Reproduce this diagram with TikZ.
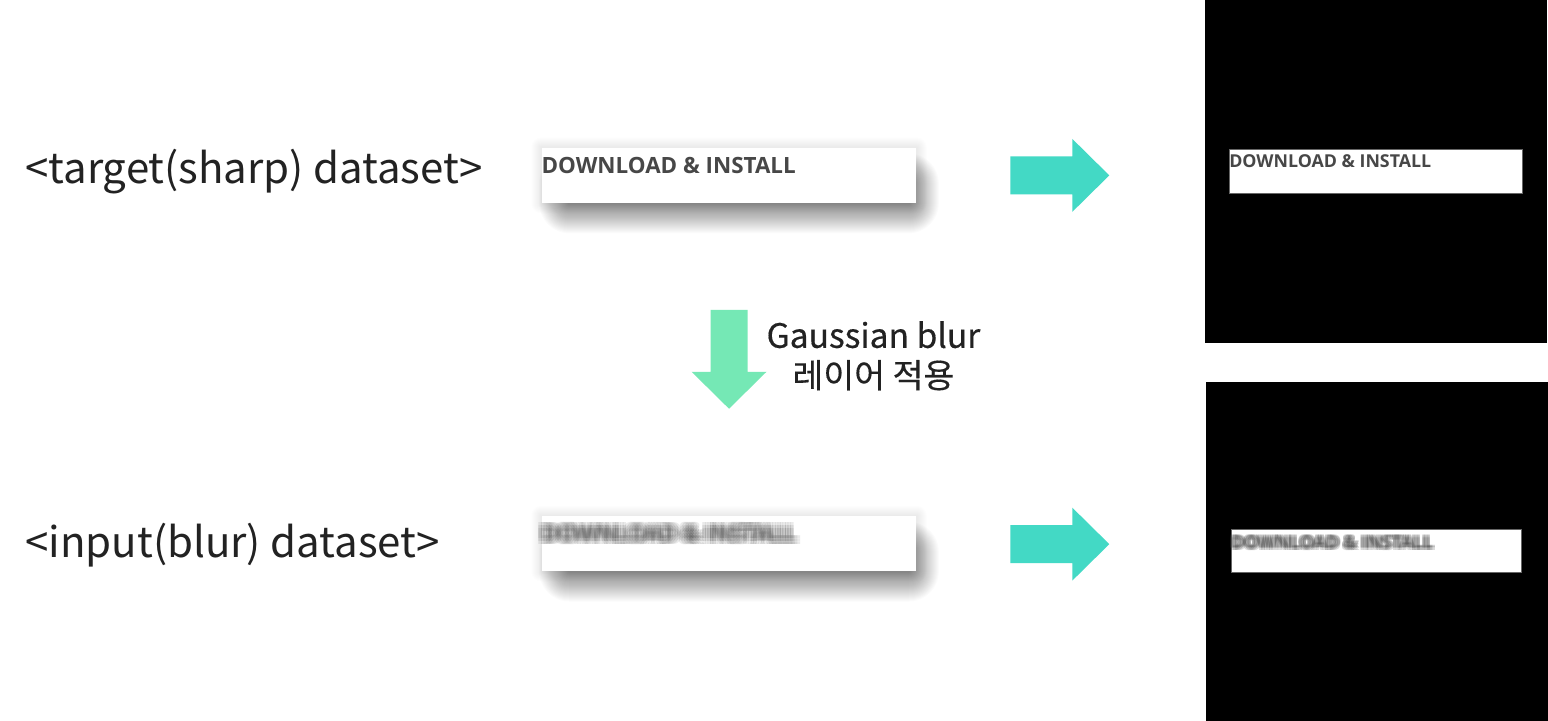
\documentclass[tikz,border=0pt]{standalone}
\usepackage{fontspec}
\setmainfont{Noto Sans CJK KR}
\newfontfamily\cardfont{Open Sans}
\newfontfamily\notefont{Noto Sans CJK KR}[FakeBold=0.4]
\usetikzlibrary{backgrounds}
\definecolor{tealarrow}{HTML}{43D9C5}
\definecolor{greenarrow}{HTML}{75E8B5}
\definecolor{cardtext}{HTML}{474747}
\definecolor{labeltext}{HTML}{222222}
\tikzset{
  rarrow/.pic={\fill[tealarrow] (0,-19) -- (62,-19) -- (62,-36.5) -- (99,0)
      -- (62,36.5) -- (62,19) -- (0,19) -- cycle;},
  darrow/.pic={\fill[greenarrow] (-18.5,0) -- (18.5,0) -- (18.5,62) -- (37.5,62)
      -- (0,99) -- (-37.5,62) -- (-18.5,62) -- cycle;}
}
\newcommand\cardshadow[1]{%
  \foreach \r in {1,...,10}
    \fill[black,opacity=0.009,rounded corners=0.5*\r pt]
      ([xshift=-0.5*\r pt,yshift=0.5*\r pt]#1.north west) rectangle
      ([xshift=0.5*\r pt,yshift=-0.5*\r pt]#1.south east);
  \foreach \r in {1,...,30}
    \fill[black,opacity=0.016,rounded corners=0.5*\r pt]
      ([xshift=14pt-0.5*\r pt,yshift=-18pt+0.5*\r pt]#1.north west) rectangle
      ([xshift=-4pt+0.5*\r pt,yshift=-0.5*\r pt]#1.south east);}
\begin{document}
\begin{tikzpicture}[x=0.5pt,y=-0.5pt,
    dlabel/.style={anchor=west,inner sep=0,text=labeltext,font=\fontsize{21}{25}\selectfont},
    card/.style={fill=white,inner sep=0,minimum width=187.5pt,minimum height=27.5pt},
    cardlbl/.style={anchor=north west,inner sep=0,text=cardtext,font=\cardfont\bfseries\fontsize{11.2}{13}\selectfont},
    panel/.style={fill=black,inner sep=0,minimum width=171pt,minimum height=170pt},
    inbox/.style={fill=white,draw=black!60,line width=0.3pt,inner sep=0,minimum width=146.5pt,minimum height=22pt},
    panellbl/.style={anchor=north west,inner sep=0,text=cardtext,font=\cardfont\bfseries\fontsize{8.9}{10}\selectfont}
    ]
  \begin{scope}[on background layer]
    \fill[white] (0,0) rectangle (1548,721);
  \end{scope}
  % left labels
  \node[dlabel] (lsharp) at (25,172) {<target(sharp) dataset>};
  \node[dlabel] (lblur) at (25,545) {<input(blur) dataset>};
  % cards
  \node[card] (csharp) at (729.5,175.5) {};
  \node[cardlbl] (tsharp) at ([yshift=-4.5pt]csharp.north west) {DOWNLOAD \& INSTALL};
  \node[card] (cblur) at (729.5,544) {};
  \foreach \dx in {-2.6,-1.3,0,1.3,2.6}
    \foreach \dy in {-1.6,0,1.6}
      \node[cardlbl,opacity=0.11] at ([xshift=\dx pt,yshift=-4.5pt+\dy pt]cblur.north west) {DOWNLOAD \& INSTALL};
  \begin{scope}[on background layer]
    \cardshadow{csharp}
    \cardshadow{cblur}
  \end{scope}
  % arrows
  \pic at (1011,175.5) {rarrow};
  \pic at (1011,544.5) {rarrow};
  \pic at (729.5,310) {darrow};
  \node[align=center,inner sep=0,text=labeltext,font=\notefont\fontsize{16.8}{20}\selectfont] (gauss) at (874,356)
    {Gaussian blur\\레이어 적용};
  % right panels
  \node[panel,minimum height=171.5pt] (psharp) at (1377,171.5) {};
  \node[inbox] (bsharp) at (1376.5,171) {};
  \node[panellbl] (xsharp) at ([yshift=-3pt]bsharp.north west) {DOWNLOAD \& INSTALL};
  \node[panel,minimum height=169.5pt] (pblur) at (1378,551.5) {};
  \node[inbox,minimum width=145pt,minimum height=21.5pt] (bblur) at (1377,551.5) {};
  \foreach \dx in {-1.2,0,1.2}
    \foreach \dy in {-0.8,0,0.8}
      \node[panellbl,opacity=0.2] at ([xshift=\dx pt,yshift=-3pt+\dy pt]bblur.north west) {DOWNLOAD \& INSTALL};
\end{tikzpicture}
\end{document}
